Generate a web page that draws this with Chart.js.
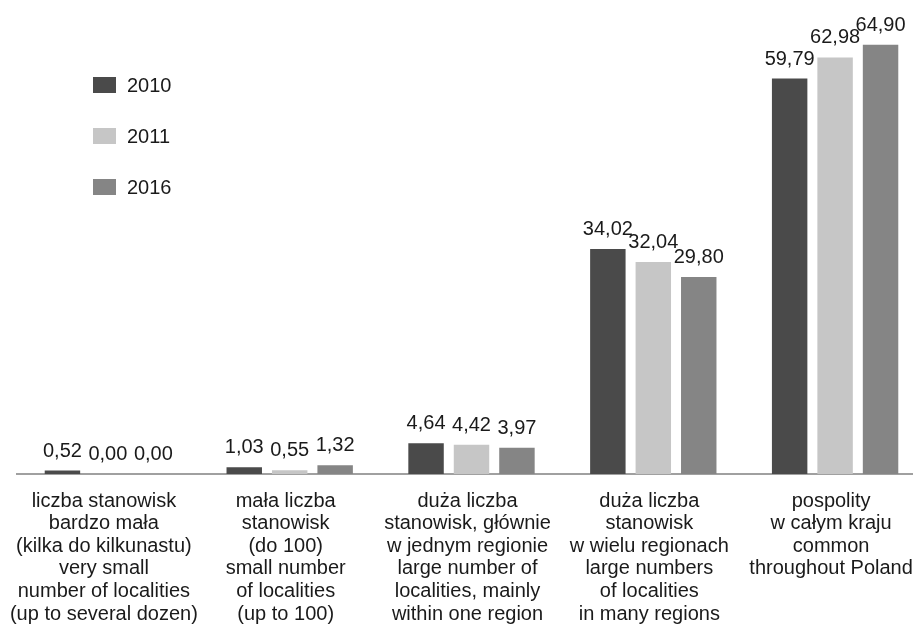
<!DOCTYPE html>
<html>
<head>
<meta charset="utf-8">
<script src="https://cdn.jsdelivr.net/npm/chart.js@4"></script>
<style>
  html, body { margin: 0; padding: 0; background: #fff; overflow: hidden; }
  #wrap { position: relative; width: 926px; height: 630px; }
</style>
</head>
<body>
<div id="wrap"><canvas id="chart"></canvas></div>
<script>
const categories = [
  ['liczba stanowisk', 'bardzo mała', '(kilka do kilkunastu)', 'very small', 'number of localities', '(up to several dozen)'],
  ['mała liczba', 'stanowisk', '(do 100)', 'small number', 'of localities', '(up to 100)'],
  ['duża liczba', 'stanowisk, głównie', 'w jednym regionie', 'large number of', 'localities, mainly', 'within one region'],
  ['duża liczba', 'stanowisk', 'w wielu regionach', 'large numbers', 'of localities', 'in many regions'],
  ['pospolity', 'w całym kraju', 'common', 'throughout Poland']
];
const years = ['2010', '2011', '2016'];
const values2010 = [0.52, 1.03, 4.64, 34.02, 59.79];
const values2011 = [0.00, 0.55, 4.42, 32.04, 62.98];
const values2016 = [0.00, 1.32, 3.97, 29.80, 64.90];
const colors = ['#4a4a4a', '#c6c6c6', '#858585'];

const FONT = 'Liberation Sans, Arial, sans-serif';
const TEXT = '#1a1a1a';

// value labels above each bar, decimal comma
const valueLabels = {
  id: 'valueLabels',
  afterDatasetsDraw(chart) {
    const ctx = chart.ctx;
    ctx.save();
    ctx.font = '20px ' + FONT;
    ctx.fillStyle = TEXT;
    ctx.textAlign = 'center';
    ctx.textBaseline = 'alphabetic';
    chart.data.datasets.forEach((ds, i) => {
      chart.getDatasetMeta(i).data.forEach((bar, j) => {
        const txt = ds.data[j].toFixed(2).replace('.', ',');
        ctx.fillText(txt, bar.x, bar.y - 14);
      });
    });
    ctx.restore();
  }
};

// multi-line category names under the axis, tighter leading than the default ticks
const categoryLabels = {
  id: 'categoryLabels',
  afterDraw(chart) {
    const ctx = chart.ctx;
    const x = chart.scales.x;
    ctx.save();
    ctx.font = '20px ' + FONT;
    ctx.fillStyle = TEXT;
    ctx.textAlign = 'center';
    ctx.textBaseline = 'middle';
    chart.data.labels.forEach((lines, i) => {
      const cx = x.getPixelForValue(i) - 4;
      lines.forEach((line, k) => {
        ctx.fillText(line, cx, x.top + 27 + k * 22.6);
      });
    });
    ctx.restore();
  }
};

// vertical legend in the upper left corner
const sideLegend = {
  id: 'sideLegend',
  afterDraw(chart) {
    const ctx = chart.ctx;
    ctx.save();
    ctx.font = '20px ' + FONT;
    ctx.textBaseline = 'middle';
    chart.data.datasets.forEach((ds, i) => {
      const y = 85 + i * 51;
      ctx.fillStyle = ds.backgroundColor;
      ctx.fillRect(93, y - 8, 23, 16);
      ctx.fillStyle = TEXT;
      ctx.fillText(ds.label, 127, y + 1);
    });
    ctx.restore();
  }
};

new Chart(document.getElementById('chart'), {
  type: 'bar',
  data: {
    labels: categories,
    datasets: [
      { label: years[0], data: values2010, backgroundColor: colors[0] },
      { label: years[1], data: values2011, backgroundColor: colors[1] },
      { label: years[2], data: values2016, backgroundColor: colors[2] }
    ]
  },
  options: {
    responsive: true,
    maintainAspectRatio: false,
    animation: false,
    layout: { padding: { left: 17, right: 0, top: 11, bottom: 0 } },
    datasets: { bar: { categoryPercentage: 0.75, barPercentage: 0.78 } },
    plugins: { legend: { display: false }, tooltip: { enabled: false } },
    scales: {
      x: {
        grid: { display: false },
        border: { display: true, color: '#a0a0a0', width: 2 },
        ticks: { display: false },
        afterFit(scale) { scale.height = 156; }
      },
      y: {
        display: false,
        min: 0,
        max: 70
      }
    }
  },
  plugins: [valueLabels, categoryLabels, sideLegend]
});
</script>
</body>
</html>
